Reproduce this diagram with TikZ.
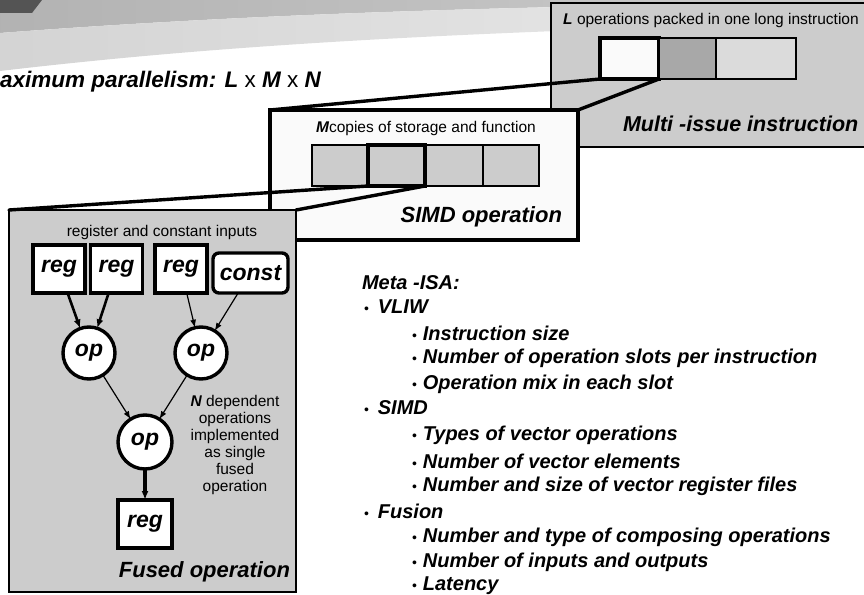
\documentclass[tikz,border=0pt]{standalone}
\usepackage{fontspec}
\setmainfont{Liberation Sans}
\usepackage{tikz}
\usetikzlibrary{positioning,arrows.meta}
\definecolor{bannerdark}{gray}{0.33}
\definecolor{bannermidL}{gray}{0.70}
\definecolor{bannermidR}{gray}{0.80}
\definecolor{bannerlightL}{gray}{0.83}
\definecolor{bannerlightR}{gray}{0.92}
\definecolor{panelgray}{gray}{0.80}
\definecolor{slotdark}{gray}{0.66}
\definecolor{slotlight}{gray}{0.86}
\definecolor{offwhite}{gray}{0.98}
\newcommand{\topbul}{{\fontsize{14}{14}\selectfont\mdseries\upshape\textbullet}\hspace{9pt}}
\newcommand{\subbul}{{\fontsize{14}{14}\selectfont\mdseries\upshape\textbullet}\hspace{6pt}}

\begin{document}
\begin{tikzpicture}[x=1pt, y=-1pt, -{Latex[length=9pt,width=7pt]}, every node/.style={inner sep=0pt, outer sep=0pt},
    panel/.style={draw, anchor=north west},
    slot/.style={draw, line width=1.3pt, minimum height=41pt, anchor=north west},
    pick/.style={line width=3.4pt},
    funnel/.style={-, line width=3.4pt, line cap=round},
    regbox/.style={draw, fill=white, line width=3.4pt, minimum width=52pt, minimum height=48pt, font=\fontsize{23}{23}\selectfont\bfseries\itshape},
    opnode/.style={circle, draw, fill=white, line width=3.4pt, minimum size=52pt, font=\fontsize{23}{23}\selectfont\bfseries\itshape},
    thickfeed/.style={line width=2.6pt},
    thinfeed/.style={line width=1.2pt, -{Latex[length=8pt,width=6pt]}},
    small/.style={font=\fontsize{15.5}{17}\selectfont},
    title/.style={font=\fontsize{22}{24}\selectfont\bfseries\itshape},
    item/.style={anchor=west, font=\fontsize{20}{22}\selectfont\bfseries\itshape}]
  \useasboundingbox (0,0) rectangle (864,594);
  \clip (0,0) rectangle (864,594);

  % slide banner
  \shade[-, left color=bannermidL, right color=bannermidR] (0,0) -- (864,0) -- (864,2) .. controls (500,6) and (250,14) .. (0,33) -- cycle;
  \shade[-, left color=bannerlightL, right color=bannerlightR] (0,33) .. controls (250,14) and (500,6) .. (864,2) -- (864,22) .. controls (400,32) and (180,50) .. (0,71) -- cycle;
  \fill[-, bannerdark] (0,0) -- (42,0) -- (32,13) -- (0,13) -- cycle;

  \node[title, font=\fontsize{22.5}{24}\selectfont\bfseries\itshape, anchor=west] (parallel) at (0,82) {aximum parallelism: L {\mdseries\upshape x} M {\mdseries\upshape x} N};

  % multi-issue instruction
  \node[panel, fill=panelgray, line width=2pt, minimum width=330pt, minimum height=144pt] (multi) at (551,3) {};
  \node[small] (multitext) at (711,20) {{\bfseries\itshape L} operations packed in one long instruction};
  \node[slot, pick, fill=offwhite, minimum width=59pt] (slotA) at (600,38) {};
  \node[slot, fill=slotdark, minimum width=57pt, right=0pt of slotA] (slotB) {};
  \node[slot, fill=slotlight, minimum width=80pt, right=0pt of slotB] (slotC) {};
  \node[title, font=\fontsize{21.5}{24}\selectfont\bfseries\itshape, anchor=west] (multititle) at (623,124) {Multi -issue instruction};

  % SIMD operation
  \node[panel, fill=offwhite, line width=3.4pt, minimum width=308pt, minimum height=130pt] (simd) at (270,110) {};
  \draw[funnel] (slotA.south west) -- (simd.north west);
  \draw[funnel] (slotA.south east) -- (simd.north east);
  \node[small] (simdtext) at (426,128) {{\bfseries\itshape M}copies of storage and function};
  \node[slot, fill=panelgray, minimum width=56pt] (cellA) at (312,145) {};
  \node[slot, fill=panelgray, minimum width=58pt] (cellC) at (425,145) {};
  \node[slot, fill=panelgray, minimum width=56pt, right=0pt of cellC] (cellD) {};
  \node[slot, pick, fill=panelgray, minimum width=57pt, right=0pt of cellA] (cellB) {};
  \node[title, anchor=east] (simdtitle) at (562,217) {SIMD operation};

  % fused operation
  \node[panel, fill=panelgray, line width=2.4pt, minimum width=287pt, minimum height=382pt] (fused) at (9,210) {};
  \draw[funnel] (cellB.south west) -- (fused.north west);
  \draw[funnel] (cellB.south east) -- (fused.north east);
  \node[small] (inputs) at (162,232) {register and constant inputs};
  \node[regbox] (reg1) at (59,269) {reg};
  \node[regbox] (reg2) at (116.5,269) {reg};
  \node[regbox] (reg3) at (181,269) {reg};
  \node[regbox, rounded corners=6pt, minimum width=75pt, minimum height=40pt] (const) at (250.5,273) {const};
  \node[opnode] (op1) at (89,353) {op};
  \node[opnode] (op2) at (201,353) {op};
  \node[opnode, minimum size=54pt] (op3) at (145,442) {op};
  \node[regbox, minimum width=54pt] (regout) at (145,524) {reg};
  \draw[thickfeed] (reg1) -- (op1);
  \draw[thickfeed] (reg2) -- (op1);
  \draw[thinfeed] (reg3) -- (op2);
  \draw[thinfeed] (const) -- (op2);
  \draw[thinfeed] (op1) -- (op3);
  \draw[thinfeed] (op2) -- (op3);
  \draw[line width=3.2pt] (op3) -- (regout);
  \node[small, align=center] (fusednote) at (235,445) {{\bfseries\itshape N} dependent\\operations\\implemented\\as single\\fused\\operation};
  \node[title, anchor=east] (fusedtitle) at (290,572) {Fused operation};

  % meta-ISA list
  \node[item] (meta) at (362,283) {Meta -ISA:};
  \node[item] (vliw) at (364,307) {\topbul VLIW};
  \node[item] (isize) at (412,333) {\subbul Instruction size};
  \node[item] (islots) at (412,358) {\subbul Number of operation slots per instruction};
  \node[item] (imix) at (412,384) {\subbul Operation mix in each slot};
  \node[item] (simdhead) at (364,408) {\topbul SIMD};
  \node[item] (vtypes) at (412,435) {\subbul Types of vector operations};
  \node[item] (velems) at (412,461) {\subbul Number of vector elements};
  \node[item] (vfiles) at (412,486) {\subbul Number and size of vector register files};
  \node[item] (fusion) at (364,511) {\topbul Fusion};
  \node[item] (fops) at (412,537) {\subbul Number and type of composing operations};
  \node[item] (fio) at (412,562) {\subbul Number of inputs and outputs};
  \node[item] (flat) at (412,586) {\subbul Latency};
\end{tikzpicture}
\end{document}
